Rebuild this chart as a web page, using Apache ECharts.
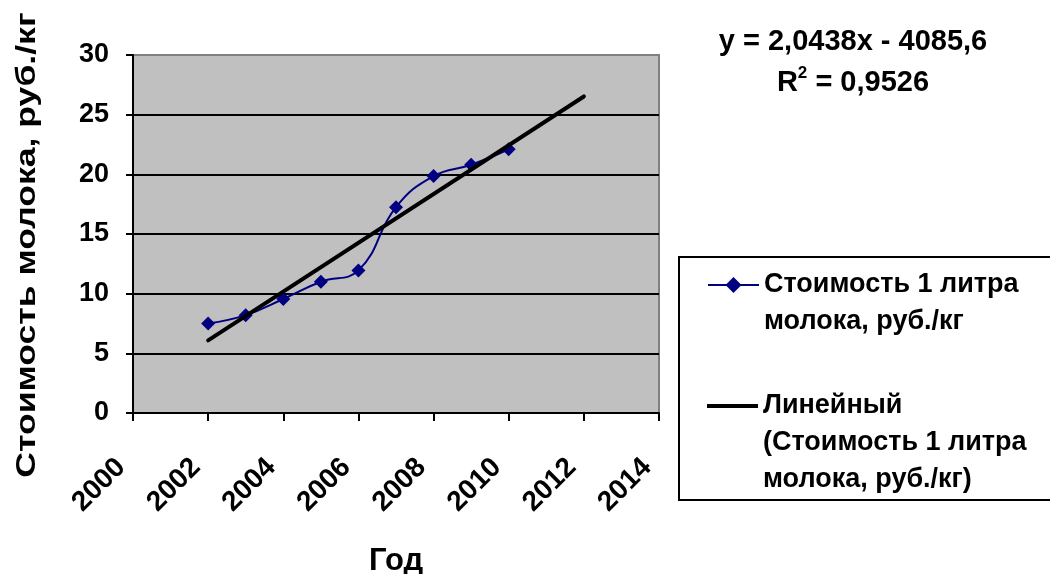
<!DOCTYPE html>
<html>
<head>
<meta charset="utf-8">
<script src="https://cdn.jsdelivr.net/npm/echarts@6/dist/echarts.min.js"></script>
<style>
  html, body { margin: 0; padding: 0; background: #fff; }
  #chart { width: 1050px; height: 574px; }
</style>
</head>
<body>
<div id="chart"></div>
<script>
// Milk price per litre by year
const years = [2002, 2003, 2004, 2005, 2006, 2007, 2008, 2009, 2010];
const prices = [7.5, 8.2, 9.55, 11.0, 11.95, 17.25, 19.85, 20.8, 22.1];

// Linear trend as stated in the equation label, drawn over the forecast span
const trendSlope = 2.0438;
const trendIntercept = -4085.6;
const trendR2 = '0,9526';
const trendYears = [2002, 2012];

const xTicks = { min: 2000, max: 2014, step: 2 };
const yTicks = { min: 0, max: 30, step: 5 };

const seriesName = 'Стоимость 1 литра молока, руб./кг';
const trendName = 'Линейный (Стоимость 1 литра молока, руб./кг)';
const seriesLegendLines = ['Стоимость 1 литра', 'молока, руб./кг'];
const trendLegendLines = ['Линейный', '(Стоимость 1 литра', 'молока, руб./кг)'];
const xTitle = 'Год';
const yTitle = 'Стоимость молока, руб./кг';

const FONT = '"Liberation Sans", Arial, sans-serif';
const LEGEND_LINE = 37;

const trendPoints = trendYears.map(x => [x, trendSlope * x + trendIntercept]);
const eqLine1 = 'y = ' + String(trendSlope).replace('.', ',') + 'x - ' + String(-trendIntercept).replace('.', ',');

// Legend text is vertically centred on its icon, so blank lines are added
// before the text to keep the icon level with the first line.
function legendText(lines) {
  return new Array(lines.length - 1).fill('').concat(lines).join('\n');
}

const legendTextStyle = { fontFamily: FONT, fontWeight: 'bold', fontSize: 27, lineHeight: LEGEND_LINE, color: '#000' };

const chart = echarts.init(document.getElementById('chart'));
chart.setOption({
  animation: false,
  backgroundColor: '#ffffff',
  grid: {
    left: 133, right: 391, top: 55, bottom: 161,
    outerBoundsMode: 'none',
    containLabel: false,
    show: true,
    backgroundColor: '#c0c0c0',
    borderColor: '#808080',
    borderWidth: 2
  },
  xAxis: {
    type: 'value',
    min: xTicks.min, max: xTicks.max, interval: xTicks.step,
    name: xTitle,
    nameLocation: 'middle',
    nameGap: 133,
    nameTextStyle: { fontFamily: FONT, fontWeight: 'bold', fontSize: 31, color: '#000' },
    axisLine: { show: true, onZero: false, lineStyle: { color: '#000', width: 2 } },
    axisTick: { show: true, length: 8, lineStyle: { color: '#000', width: 2 } },
    axisLabel: {
      rotate: 45, margin: 38, padding: [0, 17, 0, 0],
      fontFamily: FONT, fontWeight: 'bold', fontSize: 28, color: '#000',
      formatter: v => String(v)
    },
    splitLine: { show: false }
  },
  yAxis: {
    type: 'value',
    min: yTicks.min, max: yTicks.max, interval: yTicks.step,
    axisLine: { show: true, lineStyle: { color: '#000', width: 2 } },
    axisTick: { show: true, length: 7, lineStyle: { color: '#000', width: 2 } },
    axisLabel: {
      margin: 24,
      fontFamily: FONT, fontWeight: 'bold', fontSize: 27, color: '#000'
    },
    splitLine: {
      show: true,
      lineStyle: { color: ['#000', '#000', '#000', '#000', '#000', '#000', '#808080'], width: 2 }
    }
  },
  legend: [
    {
      data: [{ name: seriesName }],
      left: 707, top: 285 - LEGEND_LINE * (2 * seriesLegendLines.length - 1) / 2, padding: 0,
      itemWidth: 51, itemHeight: 20, itemGap: 0,
      lineStyle: { width: 2 },
      formatter: () => legendText(seriesLegendLines),
      textStyle: legendTextStyle,
      selectedMode: false
    },
    {
      data: [{ name: trendName, icon: 'rect' }],
      left: 707, top: 406 - LEGEND_LINE * (2 * trendLegendLines.length - 1) / 2, padding: 0,
      itemWidth: 51, itemHeight: 4, itemGap: 0,
      formatter: () => legendText(trendLegendLines),
      textStyle: legendTextStyle,
      selectedMode: false
    }
  ],
  graphic: [
    {
      type: 'rect', z: 0, silent: true,
      shape: { x: 679, y: 257, width: 420, height: 243 },
      style: { fill: 'none', stroke: '#000', lineWidth: 2 }
    },
    {
      // vertical axis title, stretched along its length
      type: 'text', z: 10, silent: true,
      x: 27, y: 245, rotation: Math.PI / 2, scaleX: 1.27,
      style: {
        text: yTitle, x: 0, y: 0, align: 'center', verticalAlign: 'middle',
        font: 'bold 28px ' + FONT, fill: '#000'
      }
    },
    {
      type: 'text', z: 10, silent: true,
      style: {
        text: eqLine1, x: 853, y: 42, align: 'center', verticalAlign: 'middle',
        font: 'bold 29px ' + FONT, fill: '#000'
      }
    },
    {
      type: 'text', z: 10, silent: true,
      style: {
        text: '{t|R}{s|2}{t| = ' + trendR2 + '}',
        x: 853, y: 81, align: 'center', verticalAlign: 'middle',
        rich: {
          t: { fontFamily: FONT, fontWeight: 'bold', fontSize: 29, fill: '#000', verticalAlign: 'bottom', lineHeight: 32 },
          s: { fontFamily: FONT, fontWeight: 'bold', fontSize: 17, fill: '#000', verticalAlign: 'top', lineHeight: 32, padding: [0, 0, 14, 0] }
        }
      }
    }
  ],
  series: [
    {
      name: seriesName,
      type: 'line',
      data: years.map((y, i) => [y, prices[i]]),
      smooth: 0.45,
      symbol: 'diamond',
      symbolSize: 14,
      lineStyle: { color: '#000080', width: 2 },
      itemStyle: { color: '#000080' },
      z: 3
    },
    {
      name: trendName,
      type: 'line',
      data: trendPoints,
      symbol: 'none',
      lineStyle: { color: '#000', width: 4, cap: 'round' },
      itemStyle: { color: '#000' },
      z: 4
    }
  ]
});
</script>
</body>
</html>
